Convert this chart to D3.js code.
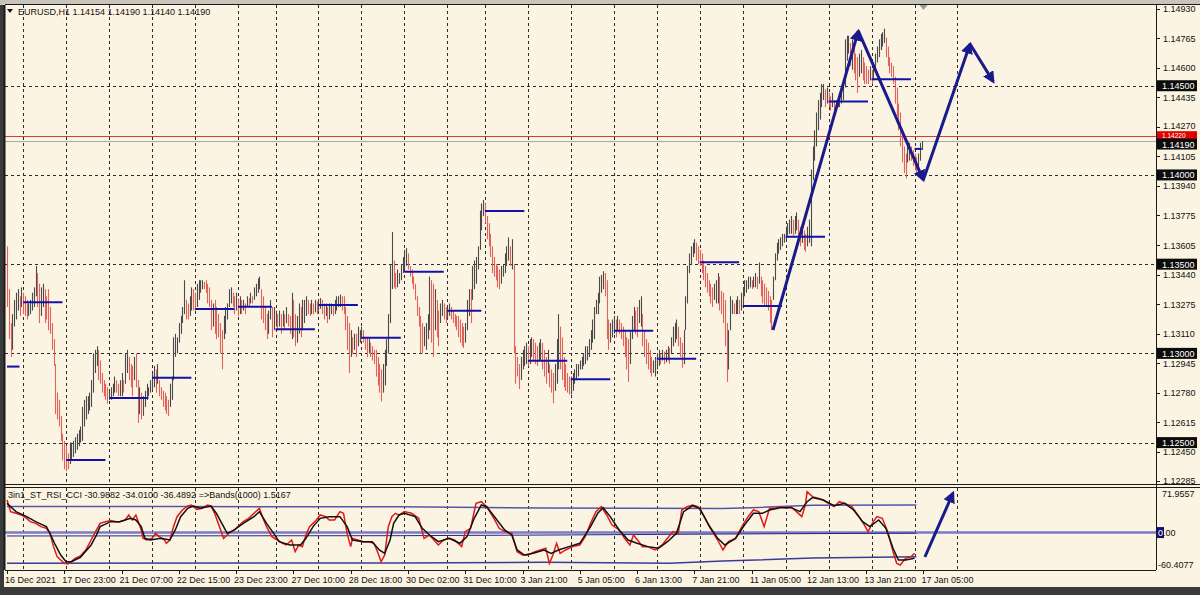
<!DOCTYPE html>
<html><head><meta charset="utf-8">
<script src="https://cdn.jsdelivr.net/npm/d3@7"></script>
<style>
body{margin:0;background:#fcf4e2;}
svg{display:block;}
text{font-family:"Liberation Sans",Arial,sans-serif;}
</style></head>
<body><svg id="c" width="1200" height="595"></svg>
<script>
// ---------- DATA ----------
const symbolTitle = "EURUSD,H1  1.14154 1.14190 1.14140 1.14190";
const indTitle = "3in1_ST_RSI_CCI -30.9882 -34.0100 -36.4892  =>Bands(1000) 1.5167";
// bars per trading day (16 Dec .. 17 Jan)
const dayBars = [9,24,24,24,24,24,21,24,24,24,24,21,24,24,24,24,24,24,24,24,24,24,5];
// hourly highs / lows, pips above 1.12000
const hi = [
160,136,117,122,130,134,136,132,137,
134,132,130,128,130,134,137,149,145,139,137,139,136,132,136,126,117,108,94,78,74,65,55,51,
48,44,50,50,51,53,55,57,59,70,74,76,76,78,85,100,102,104,102,96,89,85,83,81,
79,81,83,87,85,83,85,89,85,100,102,98,94,93,98,100,85,81,78,76,79,83,81,85,
89,93,91,94,85,81,79,78,76,74,83,87,109,111,109,117,121,126,141,130,128,132,137,136,
134,139,141,141,141,140,141,139,137,130,128,130,126,122,117,113,121,126,128,136,137,134,132,134,
130,132,130,130,128,132,131,134,132,137,139,142,143,136,132,126,122,124,130,126,126,
124,122,124,122,124,122,126,122,121,134,130,122,121,128,126,130,130,132,130,128,130,128,130,129,
130,131,130,128,128,126,128,128,127,130,132,132,133,132,132,126,121,117,113,109,111,111,115,113,
115,113,109,109,108,106,104,102,102,98,94,91,94,102,108,122,150,168,152,145,147,145,150,154,
158,159,156,149,147,143,139,132,126,121,117,115,117,122,143,141,139,136,130,124,128,130,128,126,
126,128,126,124,122,121,121,119,117,115,117,130,136,136,149,152,154,160,180,184,186,
184,177,173,167,160,154,150,149,147,149,150,156,160,165,160,164,150,104,98,94,98,102,104,106,
104,108,109,108,106,104,106,108,106,102,98,102,94,91,89,94,108,122,115,109,98,94,89,87,
87,89,91,94,94,96,98,100,104,104,108,113,119,126,130,134,143,144,146,145,141,119,117,119,
121,119,121,119,117,115,113,109,108,113,121,126,124,126,130,132,122,113,108,106,102,98,96,98,
100,102,100,102,101,102,104,103,109,115,117,119,115,109,106,113,132,149,156,160,162,164,162,160,
158,156,152,149,145,141,139,137,139,141,145,143,135,134,130,117,113,132,130,128,130,132,130,134,
137,141,141,143,143,141,143,145,143,151,143,141,139,137,135,132,130,143,156,162,164,165,167,167,
171,173,175,177,175,177,179,175,171,173,169,167,171,175,203,216,225,235,242,246,251,251,248,249,
246,244,246,242,242,244,246,249,251,276,278,278,274,276,272,268,266,268,270,266,263,261,259,261,
259,261,268,272,276,279,280,282,277,272,266,263,261,255,249,240,235,225,216,212,216,218,216,214,
212,210,212,218,219];
const lo = [
126,108,98,102,115,119,124,121,126,
122,121,119,121,122,124,126,132,126,117,121,126,117,119,113,111,102,93,66,63,59,51,40,35,
34,35,38,40,42,44,46,48,50,51,59,63,66,68,70,78,89,93,85,83,78,76,74,72,
74,74,76,78,78,76,76,76,78,83,89,85,81,76,85,81,61,66,63,65,70,74,76,78,
79,81,78,83,76,74,70,68,66,65,70,74,85,98,100,106,111,117,122,119,119,121,124,124,
124,126,130,134,136,136,134,128,126,113,115,111,108,109,100,91,108,111,119,126,128,126,122,124,
121,122,122,124,122,126,126,128,128,130,132,134,136,119,117,113,108,111,119,109,113,
115,113,115,111,115,113,117,115,111,108,109,104,106,111,109,113,117,121,122,121,122,122,123,122,
124,125,122,119,121,117,119,122,121,122,124,126,126,124,122,113,102,89,98,100,102,98,104,106,
108,106,102,98,100,98,96,94,87,82,78,73,78,82,93,100,117,136,137,136,137,139,141,145,
147,149,147,143,139,136,130,121,115,100,100,104,102,108,113,106,98,113,109,104,117,121,119,117,
119,121,119,117,115,113,109,106,104,103,106,113,121,117,130,136,139,147,158,169,177,
173,164,160,154,145,143,141,137,136,139,143,145,149,152,149,147,100,83,87,80,85,91,93,94,
93,94,98,96,94,93,96,96,91,87,83,89,81,78,72,79,83,91,91,85,81,79,78,77,
77,79,83,85,87,91,91,93,94,96,98,102,106,108,122,122,128,134,136,132,108,102,106,109,
111,109,113,111,108,104,98,91,84,94,108,113,111,109,117,115,104,98,94,91,89,87,89,87,
91,93,94,96,94,95,96,94,100,104,106,108,104,98,92,94,113,128,145,150,154,156,152,150,
149,145,141,137,134,132,128,126,130,128,128,124,122,117,104,84,91,113,122,122,122,122,122,124,
126,132,134,136,137,136,137,137,136,139,132,128,126,126,124,117,113,130,141,152,156,158,160,162,
164,166,167,167,166,167,169,166,160,162,158,157,160,162,160,197,208,216,225,231,238,242,238,240,
238,236,238,236,236,238,238,240,242,249,264,268,261,259,257,253,246,255,257,253,251,251,251,253,
251,253,259,263,266,270,272,274,266,261,257,255,251,240,233,225,216,207,201,198,207,208,208,205,
203,201,203,208,214];
// daily level segments (one per day)
const dayLevels = [1.12926,1.13286,1.12403,1.12750,1.12864,1.13249,1.13262,1.13135,1.13271,1.13088,1.13458,1.13239,
                   1.13798,1.12959,1.12855,1.13127,1.12970,1.13511,1.13266,1.13654,1.14411,1.14536,1.14146];
const priceTicks = ["1.14930","1.14765","1.14600","1.14435","1.14270","1.14105","1.13940","1.13775","1.13605",
                    "1.13440","1.13275","1.13110","1.12945","1.12780","1.12615","1.12450","1.12285"];
const roundLevels = ["1.14500","1.14000","1.13500","1.13000","1.12500"];
const bidPrice = 1.14190, askPrice = 1.14220;
const timeLabels = ["16 Dec 2021","17 Dec 23:00","21 Dec 07:00","22 Dec 15:00","23 Dec 23:00","27 Dec 10:00",
  "28 Dec 18:00","30 Dec 02:00","31 Dec 10:00","3 Jan 21:00","5 Jan 05:00","6 Jan 13:00","7 Jan 21:00",
  "11 Jan 05:00","12 Jan 13:00","13 Jan 21:00","17 Jan 05:00"];
const futureGridBars = [531];
// oscillator: [bar, value]
const oscRed = [[0,52.6],[2,33.8],[5,31.1],[8,28.4],[11,23],[13,17.6],[16,14.9],[19,9.6],[22,6.9],[24,-1.2],[26,-22.7],
 [28,-38.9],[30,-44.2],[32,-49.6],[34,-50.7],[36,-46.9],[38,-41.5],[41,-37.8],[44,-28.1],[47,-12],[50,4.2],[52,14.9],
 [55,17.6],[58,19.3],[61,17.6],[63,17.6],[66,20.3],[68,28.4],[70,20.3],[72,28.4],[75,4.2],[76,-9.3],[78,-12],[81,-9.3],
 [83,-1.2],[85,-6.6],[88,-12],[89,-17.3],[91,-12],[93,9.6],[95,25.7],[98,36.5],[101,42.9],[103,44.5],[106,37.5],[109,39.2],
 [112,44.5],[114,42.9],[116,31.1],[119,6.9],[121,-9.3],[124,-1.2],[127,4.2],[129,9.6],[132,17.6],[135,23],[138,31.1],
 [140,36.5],[141,39.2],[143,23],[145,9.6],[148,-6.6],[151,-12],[154,-17.3],[156,-20],[159,-12],[161,-30.8],[163,-20],
 [165,-22.7],[167,-3.9],[169,9.6],[172,17.6],[175,28.4],[178,25.7],[180,20.3],[183,20.3],[186,33.8],[188,31.1],[190,-1.2],
 [192,-22.7],[193,-9.3],[196,-12],[199,-14.7],[202,-14.7],[205,-17.3],[207,-30.8],[209,-46.9],[211,-36.2],[213,9.6],
 [215,25.7],[217,31.1],[219,28],[222,33.8],[226,31.1],[230,23],[233,-9.3],[236,-3.9],[241,-20],[244,-12],[247,-9.3],
 [250,-12],[254,-22.7],[256,1.5],[259,6.9],[262,47.2],[265,49.9],[268,41.8],[272,23],[275,6.9],[278,1.5],[282,-1.2],
 [285,-30.8],[288,-36.2],[291,-36.2],[295,-30.8],[298,-28.1],[301,-25.4],[303,-49.6],[305,-36.2],[307,-17.3],[309,-33.5],
 [312,-28.1],[316,-22.7],[320,-20],[323,-6.6],[326,14.9],[329,33.8],[332,41.8],[335,28.4],[338,12.2],[342,4.2],[345,-9.3],
 [348,-20],[350,-3.9],[353,-14.7],[355,-22.7],[358,-22.7],[362,-28.1],[366,-20],[369,-9.3],[372,1.5],[375,-1.2],[377,36.5],
 [380,41.8],[383,44.5],[386,41.8],[389,28.4],[393,6.9],[397,-12],[400,-28.1],[403,-14.7],[407,-9.3],[411,12.2],[414,25.7],
 [417,36.5],[420,33.8],[423,9.6],[426,39.1],[429,39.1],[432,41.8],[435,40.2],[438,41.8],[441,33.8],[444,25.7],[446,44.5],
 [447,66],[450,58],[453,55.3],[456,52.6],[459,47.2],[462,41.8],[465,49.9],[468,47.2],[472,41.8],[476,25.7],[479,12.2],
 [481,1.5],[484,17.6],[486,25.7],[489,23],[492,1.5],[495,-30.8],[497,-49.6],[499,-52.3],[502,-41.6],[505,-38.9],[507,-33.5]];
const oscBlack = [[0,47.2],[5,33.8],[11,25.7],[16,17.6],[22,9.6],[24,-1.2],[27,-20],[30,-36.2],[33,-46.9],[36,-46.9],
 [41,-39.9],[47,-20],[50,-3.9],[52,9.6],[58,17.6],[63,17.6],[69,23],[72,20.3],[75,9.6],[77,-9.3],[80,-12],[86,-9.3],
 [91,-12],[94,4.2],[97,25.7],[101,39.2],[104,42.9],[108,39.2],[114,42.9],[117,31.1],[121,9.6],[123,-1.2],[127,4.2],
 [132,14.9],[138,25.7],[141,33.8],[145,14.9],[149,-1.2],[152,-14.7],[158,-20],[164,-20],[167,-9.3],[171,9.6],[175,23],
 [180,25.7],[186,25.7],[190,9.6],[193,-12],[199,-14.7],[204,-14.7],[208,-28.1],[211,-33.5],[214,-12],[216,14.9],
 [219,28.4],[222,31.1],[228,25.7],[232,6.9],[236,-3.9],[241,-14.7],[247,-9.3],[253,-17.3],[257,-6.6],[261,23],[265,44.5],
 [268,41.8],[273,23],[278,4.2],[282,-3.9],[285,-28.1],[289,-36.2],[294,-33.5],[300,-28.1],[304,-33.5],[308,-28.1],
 [314,-22.7],[320,-17.3],[326,9.6],[330,31.1],[333,40.2],[337,25.7],[342,4.2],[347,-12],[352,-17.3],[358,-22.7],
 [364,-25.4],[369,-14.7],[374,-1.2],[378,33.8],[383,43.4],[387,39.1],[392,12.2],[397,-9.3],[401,-20],[407,-9.3],
 [412,12.2],[417,31.1],[422,31.1],[426,36.5],[432,40.2],[438,40.2],[443,33.8],[447,49.9],[450,56.4],[456,52.6],
 [462,43.4],[468,47.2],[473,36.5],[478,17.6],[482,9.6],[487,20.3],[491,6.9],[495,-25.4],[498,-44.2],[502,-44.2],[507,-41.6]];
const bandUpper = [[0,42],[100,42],[220,41.5],[300,39.5],[400,39],[420,40.5],[450,44],[508,44.5]];
const bandMiddle = [[0,-5.5],[220,-5],[300,-4],[420,-2],[508,-1]];
const bandLower = [[0,-49.6],[220,-49],[300,-48],[370,-49.5],[400,-46],[450,-41],[508,-39]];
const oscTicks = ["71.9557","0.00","-60.4077"];
// hand-drawn arrows: [bar, price]
const arrowMain = [[427.9,1.13131],[475.6,1.14807],[511.9,1.13972],[538,1.14734],[551,1.14523]];
const arrowOsc = [[512.8,-39.4],[528.5,63.9]];

// ---------- LAYOUT ----------
const W=1200,H=595;
const L=5, R=1156, mainTop=5, mainBot=484, oscTop=488, oscBot=570;
const svg=d3.select("#c");
const cream="#fcf4e2";
const x=d3.scaleLinear().domain([0,642]).range([7,7+642*1.79]);
const y=d3.scaleLinear().domain([1.12268,1.14958]).range([mainBot,4]);
const yo=d3.scaleLinear().domain([-60.4077,71.9557]).range([oscBot,oscTop]);

// frame
svg.append("rect").attr("width",W).attr("height",H).attr("fill","#3a3a3a");
svg.append("rect").attr("x",0).attr("y",0).attr("width",W).attr("height",5).attr("fill","#c8c4bc");
svg.append("rect").attr("x",4).attr("y",4).attr("width",W-4).attr("height",583).attr("fill",cream);

const defs=svg.append("defs");
defs.append("clipPath").attr("id","cm").append("rect").attr("x",L).attr("y",mainTop).attr("width",R-L).attr("height",mainBot-mainTop);
defs.append("clipPath").attr("id","co").append("rect").attr("x",L).attr("y",oscTop).attr("width",R-L).attr("height",oscBot-oscTop);
["m1","m2"].forEach((id,k)=>{
  defs.append("marker").attr("id",id).attr("viewBox","0 0 10 10").attr("refX",8).attr("refY",5)
   .attr("markerWidth",4).attr("markerHeight",4).attr("orient","auto-start-reverse").attr("markerUnits","strokeWidth")
   .append("path").attr("d","M0,0 L10,5 L0,10 z").attr("fill","#1a1a8c");
});

// day starts
const starts=[]; let acc=0; dayBars.forEach(n=>{starts.push(acc); acc+=n;});
const gridBars = starts.slice(1).concat(futureGridBars);

const gm=svg.append("g").attr("clip-path","url(#cm)");
const go=svg.append("g").attr("clip-path","url(#co)");

// vertical grid
[gm,go].forEach((g,k)=>{
  g.selectAll("line.vg").data(gridBars).join("line")
   .attr("x1",d=>Math.round(x(d))+0.5).attr("x2",d=>Math.round(x(d))+0.5)
   .attr("y1",k?oscTop:mainTop).attr("y2",k?oscBot:mainBot)
   .attr("stroke","#2a2a2a").attr("stroke-width",1).attr("stroke-dasharray","3,3");
});
// horizontal round levels
gm.selectAll("line.hg").data(roundLevels).join("line")
  .attr("x1",L).attr("x2",R).attr("y1",d=>Math.round(y(+d))+0.5).attr("y2",d=>Math.round(y(+d))+0.5)
  .attr("stroke","#2a2a2a").attr("stroke-dasharray","3,3");

// ask / bid lines
gm.append("line").attr("x1",L).attr("x2",R).attr("y1",Math.round(y(askPrice))+0.5).attr("y2",Math.round(y(askPrice))+0.5)
  .attr("stroke","#d83a3a");
gm.append("line").attr("x1",L).attr("x2",R).attr("y1",Math.round(y(bidPrice))+0.5).attr("y2",Math.round(y(bidPrice))+0.5)
  .attr("stroke","#a8a8a8");

// bars
const bars=hi.map((h,i)=>({i,h:1.12+h/1e4,l:1.12+lo[i]/1e4}));
bars.forEach((b,i)=>{const m=(b.h+b.l)/2, pm=i?(bars[i-1].h+bars[i-1].l)/2:m+1; b.down=m<pm;});
gm.selectAll("line.bar").data(bars).join("line")
  .attr("x1",d=>Math.round(x(d.i))+0.5).attr("x2",d=>Math.round(x(d.i))+0.5)
  .attr("y1",d=>y(d.h)).attr("y2",d=>Math.max(y(d.l),y(d.h)+1.5))
  .attr("stroke",d=>d.down?"#e2615a":"#4a4a4a").attr("stroke-width",1.1);

// daily level segments
gm.selectAll("line.lv").data(dayLevels).join("line")
  .attr("x1",(d,k)=>x(starts[k])).attr("x2",(d,k)=>x(k===dayLevels.length-1?starts[k]+dayBars[k]-1:starts[k]+dayBars[k]-2))
  .attr("y1",d=>y(d)).attr("y2",d=>y(d)).attr("stroke","#1212a8").attr("stroke-width",2);

// main arrows
for(let k=0;k<arrowMain.length-1;k++){
  const a=arrowMain[k],b=arrowMain[k+1];
  gm.append("line").attr("x1",x(a[0])).attr("y1",y(a[1])).attr("x2",x(b[0])).attr("y2",y(b[1]))
    .attr("stroke","#1a1a8c").attr("stroke-width",3).attr("marker-end","url(#m1)");
}

// oscillator
go.append("line").attr("x1",L).attr("x2",R).attr("y1",yo(0)).attr("y2",yo(0)).attr("stroke","#7a7ac6").attr("stroke-width",2.5);
const lo2=d3.line().x(d=>x(d[0])).y(d=>yo(d[1]));
go.append("path").attr("d",lo2(bandUpper)).attr("fill","none").attr("stroke","#5555a8").attr("stroke-width",1.5);
go.append("path").attr("d",lo2(bandMiddle)).attr("fill","none").attr("stroke","#24248a").attr("stroke-width",1);
go.append("path").attr("d",lo2(bandLower)).attr("fill","none").attr("stroke","#3c3c96").attr("stroke-width",1.5);
go.append("path").attr("d",lo2(oscRed)).attr("fill","none").attr("stroke","#e01818").attr("stroke-width",1.5);
go.append("path").attr("d",lo2(oscBlack)).attr("fill","none").attr("stroke","#111").attr("stroke-width",1.5);
go.append("line").attr("x1",x(arrowOsc[0][0])).attr("y1",yo(arrowOsc[0][1])).attr("x2",x(arrowOsc[1][0])).attr("y2",yo(arrowOsc[1][1]))
  .attr("stroke","#1a1a8c").attr("stroke-width",3).attr("marker-end","url(#m2)");

// borders
const bc="#1a1a1a";
svg.append("line").attr("x1",L-0.5).attr("x2",L-0.5).attr("y1",mainTop).attr("y2",oscBot).attr("stroke",bc).attr("stroke-width",2);
svg.append("line").attr("x1",L).attr("x2",W).attr("y1",mainTop-0.5).attr("y2",mainTop-0.5).attr("stroke",bc);
svg.append("line").attr("x1",R+0.5).attr("x2",R+0.5).attr("y1",mainTop).attr("y2",oscBot).attr("stroke",bc);
svg.append("line").attr("x1",L).attr("x2",W).attr("y1",mainBot+0.5).attr("y2",mainBot+0.5).attr("stroke",bc);
svg.append("line").attr("x1",L).attr("x2",W).attr("y1",oscTop-0.5).attr("y2",oscTop-0.5).attr("stroke",bc);
svg.append("line").attr("x1",L).attr("x2",R).attr("y1",oscBot+0.5).attr("y2",oscBot+0.5).attr("stroke",bc);

// shift marker
svg.append("path").attr("d",`M${x(512)-4},5 L${x(512)+4},5 L${x(512)},10 z`).attr("fill","#9a9a9a");

// title
svg.append("path").attr("d","M7,9 L13,9 L10,13 z").attr("fill","#111");
svg.append("text").attr("x",18).attr("y",15).attr("font-size",9).attr("fill","#111").text(symbolTitle);
svg.append("text").attr("x",8).attr("y",498).attr("font-size",9).attr("fill","#111").text(indTitle);

// price axis
const ax=svg.append("g");
ax.selectAll("line.pt").data(priceTicks).join("line").attr("x1",R).attr("x2",R+4)
  .attr("y1",d=>Math.round(y(+d))+0.5).attr("y2",d=>Math.round(y(+d))+0.5).attr("stroke",bc);
ax.selectAll("text.pt").data(priceTicks).join("text").attr("x",1163)
  .attr("y",d=>y(+d)+(d==="1.14270"?2.5:3.5))
  .attr("font-size",9).attr("fill","#111").text(d=>d);
function box(val,fill,top,h,fs,base){
  ax.append("rect").attr("x",R+1).attr("y",top).attr("width",40).attr("height",h).attr("fill",fill);
  ax.append("text").attr("x",1162).attr("y",base).attr("font-size",fs).attr("fill","#fff").text(val);
}
roundLevels.forEach(v=>{const yy=y(+v); box(v,"#0c0c0c",yy-5.5,11,9,yy+3.5);});
// ask box (partly hidden behind bid box, as on the terminal)
const ya=y(askPrice), yb=y(bidPrice);
box(askPrice.toFixed(5),"#e00000",ya-4.5,8,6.5,ya+2.3);
box(bidPrice.toFixed(5),"#0c0c0c",yb-2.5,11,9,yb+7);

// oscillator axis
ax.append("text").attr("x",1162).attr("y",yo(71.9557)+9).attr("font-size",9).attr("fill","#111").text(oscTicks[0]);
ax.append("rect").attr("x",R+1).attr("y",yo(0)-5.5).attr("width",7).attr("height",11).attr("fill","#101070");
ax.append("text").attr("x",1158).attr("y",yo(0)+3.5).attr("font-size",9).attr("fill","#111")
  .html('<tspan fill="#fff">0</tspan>.00');
ax.append("text").attr("x",1158).attr("y",yo(-60.4077)-2).attr("font-size",9).attr("fill","#111").text(oscTicks[2]);

// time axis
const ta=svg.append("g");
ta.selectAll("line").data(timeLabels).join("line")
  .attr("x1",(d,k)=>Math.round(x(k*32))+0.5).attr("x2",(d,k)=>Math.round(x(k*32))+0.5)
  .attr("y1",oscBot).attr("y2",oscBot+4).attr("stroke",bc);
ta.selectAll("text").data(timeLabels).join("text")
  .attr("x",(d,k)=>x(k*32)-2).attr("y",583).attr("font-size",9).attr("fill","#111").text(d=>d);
</script></body></html>
